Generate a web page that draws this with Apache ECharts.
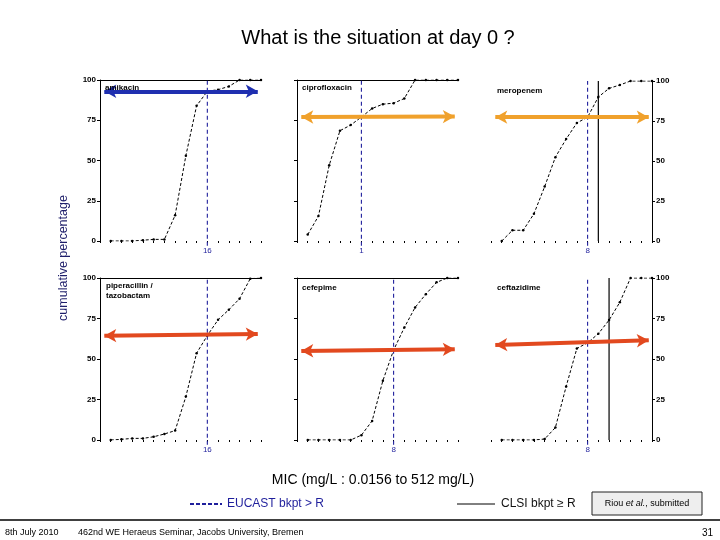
<!DOCTYPE html>
<html>
<head>
<meta charset="utf-8">
<script src="https://cdn.jsdelivr.net/npm/echarts@6/dist/echarts.min.js"></script>
<style>html,body{margin:0;padding:0;background:#fff}#c{width:720px;height:540px}</style>
</head>
<body>
<div id="c"></div>
<script>
// log2(MIC) of each dilution step plotted (0.03125 .. 512 mg/L); axis spans 0.0156 (2^-6) to 512 (2^9)
const dilutionExp = [-5, -4, -3, -2, -1, 0, 1, 2, 3, 4, 5, 6, 7, 8, 9];
const drugNames = ['amikacin', 'ciprofloxacin', 'meropenem', 'piperacillin /\ntazobactam', 'cefepime', 'ceftazidime'];
// cumulative percentage of isolates inhibited
const amikacin    = [0, 0, 0, 0.5, 1, 1, 16, 53, 84, 93, 94, 96, 100, 100, 100];
const ciprofloxacin = [4, 15.5, 47, 68.5, 72, 77, 82.3, 85, 85.6, 88.5, 100, 100, 100, 100, 100];
const meropenem   = [0, 6.7, 6.7, 17, 34, 52.4, 63.7, 73.8, 77.4, 90, 95.4, 97.5, 100, 100, 100];
const piptazo     = [0, 0.4, 1, 1, 2, 3.7, 5.8, 26.8, 53.6, 64.5, 74.2, 80.4, 87.2, 99.6, 100];
const cefepime    = [0, 0, 0, 0, 0, 3, 11.8, 36.6, 55.5, 69.4, 81.8, 90, 97.3, 100, 100];
const ceftazidime = [0, 0, 0, 0, 0.6, 7.7, 33, 56.5, 60, 65.6, 74, 85, 100, 100, 100];
// EUCAST breakpoint (log2 MIC) and its label; CLSI breakpoint (log2 MIC) or null
const eucastExp   = [4, 0, 3, 4, 3, 3];
const eucastLabel = ['16', '1', '8', '16', '8', '8'];
const clsiExp     = [null, null, 4, null, null, 5];
// horizontal arrow level (left end, right end) in %
const arrowLeft  = [93, 77, 77.4, 64.3, 55, 58.6];
const arrowRight = [93, 77.3, 77.4, 65.4, 56, 61.5];
const yTicks = [0, 25, 50, 75, 100];

const allSeries = [amikacin, ciprofloxacin, meropenem, piptazo, cefepime, ceftazidime];
const arrowColors = ['#1f2fb0', '#f0a12c', '#f0a12c', '#e2491f', '#e2491f', '#e2491f'];

const gridPos = [
  {left: 100, top: 80, width: 161, height: 161},
  {left: 297, top: 80, width: 161, height: 161},
  {left: 491, top: 81, width: 161, height: 160},
  {left: 100, top: 278, width: 161, height: 162},
  {left: 297, top: 278, width: 161, height: 162},
  {left: 491, top: 278, width: 161, height: 162}
];
const yLabelSide = ['left', 'none', 'right', 'left', 'none', 'right'];
const topBorder = [true, true, false, true, true, false];
const navy = '#1f1f9c';

const grid = [], xAxis = [], yAxis = [], series = [];
gridPos.forEach((g, i) => {
  grid.push(Object.assign({containLabel: false}, g));
  const bp = eucastExp[i], lab = eucastLabel[i];
  xAxis.push({
    type: 'value', gridIndex: i, min: -6, max: 9, interval: 1,
    axisLine: {show: false},
    axisTick: {show: true, length: 2, lineStyle: {color: '#000', width: 1}},
    splitLine: {show: false},
    axisLabel: {
      show: true, margin: 6, fontSize: 8, color: navy, fontFamily: 'Liberation Sans, Arial',
      formatter: v => (v === bp ? lab : '')
    }
  });
  // top border line
  xAxis.push({
    type: 'value', gridIndex: i, min: -6, max: 9, position: 'top',
    show: topBorder[i],
    axisLine: {show: true, onZero: false, lineStyle: {color: '#000', width: 1}},
    axisTick: {show: false}, axisLabel: {show: false}, splitLine: {show: false}
  });
  const side = yLabelSide[i];
  yAxis.push({
    type: 'value', gridIndex: i, min: 0, max: 100, interval: 25,
    position: side === 'right' ? 'right' : 'left',
    axisLine: {show: true, onZero: false, lineStyle: {color: '#000', width: 1}},
    axisTick: {show: true, length: 3, lineStyle: {color: '#000'}},
    splitLine: {show: false},
    axisLabel: {
      show: side !== 'none', fontSize: 8, fontWeight: 'bold', color: '#000',
      margin: 4, fontFamily: 'Liberation Sans, Arial',
      formatter: v => (yTicks.includes(v) ? String(v) : '')
    }
  });
  const xi = i * 2;
  const vals = allSeries[i];
  series.push({
    type: 'line', xAxisIndex: xi, yAxisIndex: i, z: 3,
    data: dilutionExp.map((e, k) => [e, vals[k]]),
    symbol: 'circle', symbolSize: 2.5, showSymbol: true,
    itemStyle: {color: '#000'},
    lineStyle: {color: '#000', width: 1, type: [3, 2]}
  });
  // EUCAST breakpoint line (extends a little below the axis like the original)
  series.push({
    type: 'line', xAxisIndex: xi, yAxisIndex: i, z: 2, clip: false,
    data: [[bp, -3], [bp, 100]], showSymbol: false, symbol: 'none',
    lineStyle: {color: navy, type: [4, 3], width: 1.1}
  });
  if (clsiExp[i] !== null) {
    series.push({
      type: 'line', xAxisIndex: xi, yAxisIndex: i, z: 2,
      data: [[clsiExp[i], 0], [clsiExp[i], 100]], showSymbol: false, symbol: 'none',
      lineStyle: {color: '#000', type: 'solid', width: 1.2}
    });
  }
  series.push({
    type: 'line', xAxisIndex: xi, yAxisIndex: i, z: 6,
    data: [[-5.6, arrowLeft[i]], [8.7, arrowRight[i]]],
    showSymbol: false, lineStyle: {opacity: 0},
    markLine: {
      silent: true, symbol: ['arrow', 'arrow'], symbolSize: [10, 12], label: {show: false}, animation: false,
      lineStyle: {color: arrowColors[i], width: 4, type: 'solid'},
      data: [[{coord: [-5.6, arrowLeft[i]]}, {coord: [8.7, arrowRight[i]]}]]
    }
  });
});

const nameLabelPos = [[105, 83], [302, 83], [497, 86], [106, 281], [302, 283], [497, 283]];
const graphic = [];
nameLabelPos.forEach((p, i) => {
  graphic.push({type: 'text', left: p[0], top: p[1], z: 10,
    style: {text: drugNames[i], font: 'bold 8px "Liberation Sans", Arial', fill: '#000', lineHeight: 10}});
});
graphic.push(
  {type: 'text', x: 378, y: 38, style: {text: 'What is the situation at day 0 ?', font: '20px "Liberation Sans", Arial', fill: '#000', align: 'center', verticalAlign: 'middle'}},
  {type: 'text', x: 64, y: 258, rotation: Math.PI / 2, style: {text: 'cumulative percentage', font: '12.5px "Liberation Sans", Arial', fill: '#1e1e6a', align: 'center', verticalAlign: 'middle'}},
  {type: 'text', x: 373, y: 480, style: {text: 'MIC (mg/L : 0.0156 to 512 mg/L)', font: '14px "Liberation Sans", Arial', fill: '#000', align: 'center', verticalAlign: 'middle'}},
  {type: 'line', shape: {x1: 190, y1: 504, x2: 222, y2: 504}, style: {stroke: navy, lineWidth: 2, lineDash: [4, 2]}},
  {type: 'text', x: 227, y: 504, style: {text: 'EUCAST bkpt > R', font: '12px "Liberation Sans", Arial', fill: navy, verticalAlign: 'middle'}},
  {type: 'line', shape: {x1: 457, y1: 504, x2: 495, y2: 504}, style: {stroke: '#000', lineWidth: 1}},
  {type: 'text', x: 501, y: 504, style: {text: 'CLSI bkpt ≥ R', font: '12px "Liberation Sans", Arial', fill: '#111', verticalAlign: 'middle'}},
  {type: 'rect', shape: {x: 592, y: 492, width: 110, height: 23}, style: {fill: '#eeeeee', stroke: '#222', lineWidth: 1}},
  {type: 'text', x: 647, y: 503.5, style: {
    rich: {a: {font: '9px "Liberation Sans", Arial', fill: '#000'}, b: {font: 'italic 9px "Liberation Sans", Arial', fill: '#000'}},
    text: '{a|Riou }{b|et al.}{a|, submitted}', align: 'center', verticalAlign: 'middle'}},
  {type: 'line', shape: {x1: 0, y1: 520, x2: 720, y2: 520}, style: {stroke: '#000', lineWidth: 1.5}},
  {type: 'text', x: 5, y: 533, style: {text: '8th July 2010', font: '9px "Liberation Sans", Arial', fill: '#000', verticalAlign: 'middle'}},
  {type: 'text', x: 78, y: 533, style: {text: '462nd WE Heraeus Seminar, Jacobs University, Bremen', font: '9px "Liberation Sans", Arial', fill: '#000', verticalAlign: 'middle'}},
  {type: 'text', x: 713, y: 533, style: {text: '31', font: '10px "Liberation Sans", Arial', fill: '#000', align: 'right', verticalAlign: 'middle'}}
);

const chart = echarts.init(document.getElementById('c'), null, {renderer: 'canvas'});
chart.setOption({animation: false, backgroundColor: '#fff', grid, xAxis, yAxis, series, graphic});
</script>
</body>
</html>
